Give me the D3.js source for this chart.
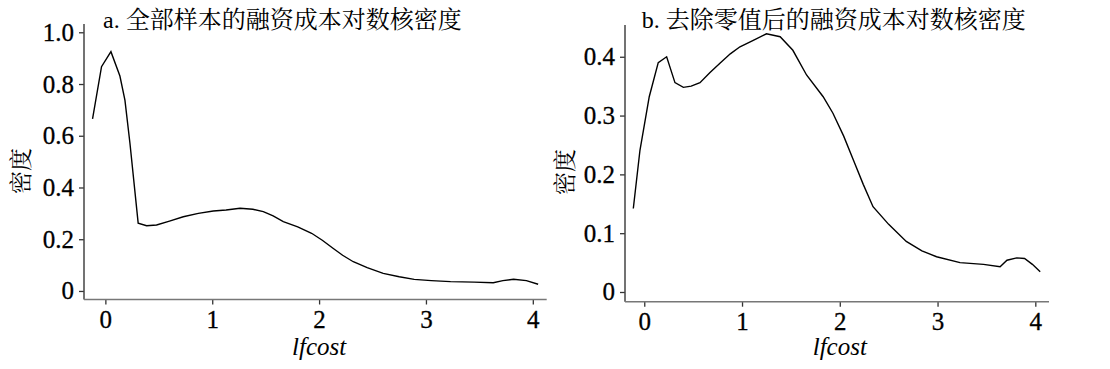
<!DOCTYPE html>
<html><head><meta charset="utf-8">
<script src="https://cdn.jsdelivr.net/npm/d3@7"></script>
<style>body{margin:0;background:#fff}svg{display:block}</style>
</head><body>
<svg id="c" width="1110" height="369"></svg>
<script>
const titleA = "a. 全部样本的融资成本对数核密度";
const titleB = "b. 去除零值后的融资成本对数核密度";
const yLabel = "密度";
const xLabel = "lfcost";
const xTicks = [0, 1, 2, 3, 4];
const yTicksA = [0, 0.2, 0.4, 0.6, 0.8, 1.0];
const yTickLabelsA = ["0", "0.2", "0.4", "0.6", "0.8", "1.0"];
const yTicksB = [0, 0.1, 0.2, 0.3, 0.4];
const yTickLabelsB = ["0", "0.1", "0.2", "0.3", "0.4"];

const xA = [-0.12,-0.036,0.052,0.136,0.183,0.23,0.307,0.386,0.479,0.6,0.729,0.87,1.01,1.13,1.26,1.38,1.478,1.57,1.665,1.8,1.93,2.03,2.13,2.22,2.32,2.45,2.6,2.75,2.89,3.05,3.23,3.45,3.63,3.72,3.82,3.94,4.05];
const yA = [0.665,0.867,0.925,0.831,0.738,0.571,0.262,0.252,0.255,0.27,0.287,0.3,0.309,0.313,0.32,0.316,0.307,0.29,0.268,0.248,0.223,0.196,0.165,0.138,0.113,0.09,0.068,0.055,0.045,0.04,0.036,0.034,0.032,0.04,0.045,0.04,0.026];

const xB = [-0.112,-0.044,0.051,0.143,0.229,0.314,0.4,0.48,0.57,0.67,0.774,0.88,0.979,1.115,1.25,1.39,1.52,1.66,1.83,1.93,2.04,2.14,2.24,2.34,2.5,2.68,2.84,2.99,3.23,3.47,3.64,3.71,3.81,3.89,3.97,4.05];
const yB = [0.142,0.241,0.332,0.39,0.40,0.356,0.348,0.35,0.356,0.373,0.389,0.405,0.417,0.428,0.439,0.434,0.411,0.369,0.332,0.304,0.265,0.224,0.183,0.145,0.115,0.086,0.07,0.06,0.05,0.047,0.043,0.054,0.058,0.057,0.047,0.0345];

const svg = d3.select("#c");
const serif = "'Liberation Serif','Times New Roman',serif";
const cjk = "'Liberation Serif','Noto Serif CJK SC','Noto Sans CJK SC',serif";

function panel(o){
  const g = svg.append("g");
  const x = d3.scaleLinear().domain(o.xd).range([o.left, o.right]);
  const y = d3.scaleLinear().domain(o.yd).range([o.bottom, o.top]);
  const ya = g.append("g").attr("transform",`translate(${o.left},0)`)
    .call(d3.axisLeft(y).tickValues(o.yt).tickFormat((d,i)=>o.ytl[i]).tickSize(5).tickPadding(5));
  ya.select(".domain").remove();
  ya.append("line").attr("x1",0).attr("x2",0).attr("y1",o.top).attr("y2",o.bottom)
    .attr("stroke","#444").attr("stroke-width",1.5);
  ya.selectAll(".tick line").attr("stroke","#333").attr("stroke-width",1.3);
  ya.selectAll(".tick text").attr("fill","#000").attr("stroke","#000").attr("stroke-width",0.3)
    .style("font-family",serif).style("font-size","25px");
  const xa = g.append("g").attr("transform",`translate(0,${o.bottom})`)
    .call(d3.axisBottom(x).tickValues(xTicks).tickFormat(d3.format("d")).tickSize(5).tickPadding(6));
  xa.select(".domain").remove();
  xa.append("line").attr("x1",o.left).attr("x2",o.right).attr("y1",0).attr("y2",0)
    .attr("stroke","#777").attr("stroke-width",1.5);
  xa.selectAll(".tick line").attr("stroke","#333").attr("stroke-width",1.3);
  xa.selectAll(".tick text").attr("fill","#000").attr("stroke","#000").attr("stroke-width",0.3)
    .style("font-family",serif).style("font-size","25px");
  const data = o.xs.map((v,i)=>[v,o.ys[i]]);
  g.append("path").datum(data)
    .attr("fill","none").attr("stroke","#000").attr("stroke-width",1.4)
    .attr("d", d3.line().x(d=>x(d[0])).y(d=>y(d[1])).curve(d3.curveLinear));
  g.append("text").attr("x",o.titleX).attr("y",28).text(o.title).attr("fill","#000")
    .style("font-family",cjk).style("font-size","24px");
  g.append("text").attr("transform",`translate(${o.ylx},${o.yly}) rotate(-90)`)
    .attr("text-anchor","middle").attr("dominant-baseline","central").text(yLabel).attr("fill","#000")
    .style("font-family",cjk).style("font-size","23px");
  g.append("text").attr("x",x(o.xlc)).attr("y",355).attr("text-anchor","middle").text(xLabel).attr("fill","#000")
    .style("font-family",serif).style("font-style","italic").style("font-size","25px");
}

panel({xd:[-0.2,4.13], yd:[-0.033,1.032], left:84, right:546.7, bottom:299.5, top:24,
  yt:yTicksA, ytl:yTickLabelsA, xs:xA, ys:yA, title:titleA, titleX:103, ylx:21, yly:171, xlc:2});
panel({xd:[-0.197,4.14], yd:[-0.0165,0.454], left:625, right:1049, bottom:301.7, top:25,
  yt:yTicksB, ytl:yTickLabelsB, xs:xB, ys:yB, title:titleB, titleX:641.7, ylx:565, yly:172, xlc:2});
</script>
</body></html>
